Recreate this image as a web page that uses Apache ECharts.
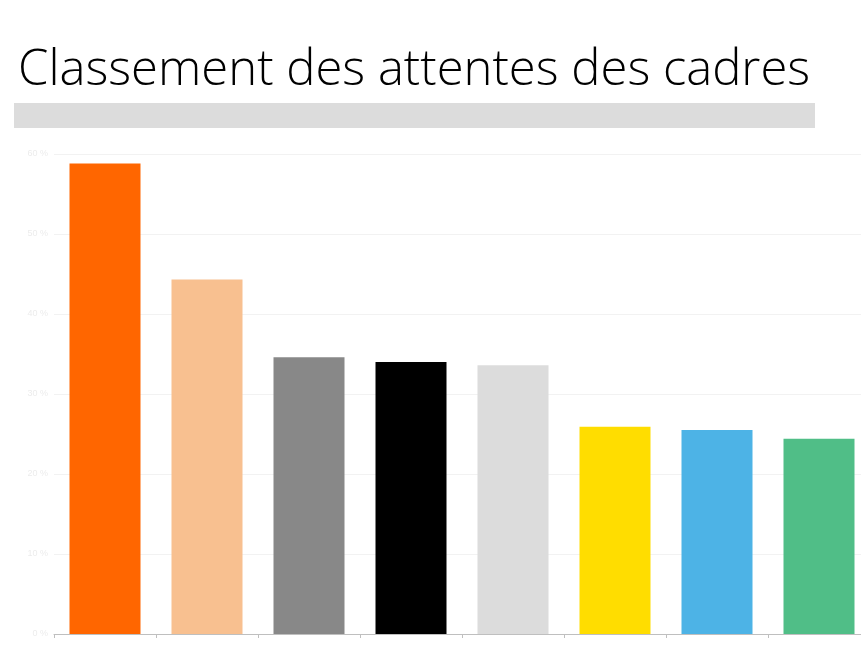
<!DOCTYPE html>
<html>
<head>
<meta charset="utf-8">
<script src="https://cdn.jsdelivr.net/npm/echarts@6/dist/echarts.min.js"></script>
<style>
html,body{margin:0;padding:0;background:#fff;overflow:hidden;width:861px;height:659px;}
#c{width:880px;height:659px;}
</style>
</head>
<body>
<div id="c"></div>
<script>
const titleText = "Classement des attentes des cadres";
const categories = ["Attente 1","Attente 2","Attente 3","Attente 4","Attente 5","Attente 6","Attente 7","Attente 8"];
const values = [58.8, 44.3, 34.6, 34.0, 33.6, 25.9, 25.5, 24.4];
const barColors = ["#ff6600","#f8c090","#888888","#000000","#dcdcdc","#ffdd00","#4db3e6","#50be87"];
const yTicks = [0, 10, 20, 30, 40, 50, 60];

const chart = echarts.init(document.getElementById('c'), null, {renderer:'canvas'});
chart.setOption({
  animation: false,
  backgroundColor: '#ffffff',
  title: {
    text: titleText,
    left: 13, top: 42,
    textStyle: {fontFamily: 'Open Sans', fontWeight: 300, fontSize: 49, color: '#000'}
  },
  graphic: [{
    type: 'rect', left: 14, top: 103,
    shape: {width: 801, height: 25},
    style: {fill: '#dcdcdc'}, silent: true
  }],
  grid: {left: 54, top: 154, width: 816, height: 480, containLabel: false},
  xAxis: {
    type: 'category',
    data: categories,
    axisLine: {lineStyle: {color: '#bfbfbf', width: 1}},
    axisTick: {show: true, lineStyle: {color: '#bfbfbf'}, length: 4},
    axisLabel: {show: false}
  },
  yAxis: {
    type: 'value', min: yTicks[0], max: yTicks[yTicks.length-1], interval: 10,
    axisLine: {show: false}, axisTick: {show: false},
    axisLabel: {color: '#ececec', fontSize: 9, margin: 6, formatter: v => v + ' %'},
    splitLine: {lineStyle: {color: '#f2f2f2', width: 1}}
  },
  series: [{
    type: 'bar',
    barWidth: 71,
    data: values.map((v, i) => ({value: v, itemStyle: {color: barColors[i]}}))
  }]
});
</script>
</body>
</html>
